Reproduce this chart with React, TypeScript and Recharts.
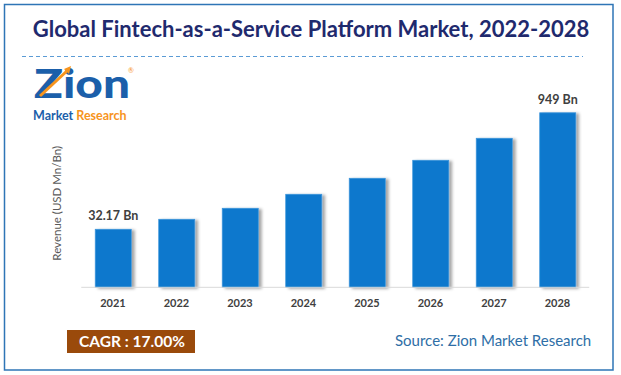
import { BarChart, Bar, XAxis, YAxis, LabelList, Label } from 'recharts'

// bar heights as drawn (relative units, chart is not to scale)
const years = ['2021', '2022', '2023', '2024', '2025', '2026', '2027', '2028']
const revenue = [58, 68, 79, 93, 109, 127, 149, 174.5]
const valueLabels = ['32.17 Bn', '', '', '', '', '', '', '949 Bn']

const data = years.map((year, i) => ({ year, revenue: revenue[i], label: valueLabels[i] }))

const FONT = 'Lato, "Open Sans", sans-serif'
const BAR = '#0A78CD'
const TEXT = '#404040'

function ShadowBar(props: any) {
  const { x, y, width, height } = props
  return (
    <rect
      x={x} y={y} width={width} height={height}
      fill={BAR} stroke="#3E94DA" strokeWidth={0.8}
      filter="url(#barShadow)"
    />
  )
}

// plain top label, no wrapping to bar width
function TopLabel(props: any) {
  const { x, y, width, value } = props
  if (!value) return null
  return (
    <text
      x={x + width / 2} y={y - 9} textAnchor="middle"
      fontFamily={FONT} fontSize={12.5} fontWeight={700} fill={TEXT}
    >
      {value}
    </text>
  )
}

function Logo() {
  return (
    <g>
      <text x={34} y={98} fontFamily={FONT} fontWeight={900} fontSize={39} fill="#1B5FAA" textLength={96} lengthAdjust="spacingAndGlyphs">
        Zion
      </text>
      <line x1={40} y1={96} x2={68} y2={70} stroke="#F7941D" strokeWidth={3} />
      <polygon points="64,69 71,66 69,74" fill="#F7941D" />
      <text x={128} y={73} fontFamily={FONT} fontSize={7} fill="#F7941D">®</text>
      <text x={33} y={120} fontFamily={FONT} fontWeight={700} fontSize={12.5}>
        <tspan fill="#1B5FAA">Market</tspan>
        <tspan fill="#F7941D" dx={3}>Research</tspan>
      </text>
    </g>
  )
}

export default function App() {
  return (
    <div style={{ position: 'absolute', left: 0, top: 0, width: 621, height: 375, background: '#fff', fontFamily: FONT }}>
      <svg width={621} height={375} style={{ position: 'absolute', left: 0, top: 0 }}>
        <rect x={4.5} y={4.5} width={608.5} height={365.5} fill="none" stroke="#2E75B6" strokeWidth={1.5} />
        <text x={311} y={37} textAnchor="middle" fontFamily={FONT} fontWeight={700} fontSize={22} fill="#1F2A6E">
          Global Fintech-as-a-Service Platform Market, 2022-2028
        </text>
        <line x1={22} y1={56.5} x2={583} y2={56.5} stroke="#5B9BD5" strokeDasharray="4 3" />
        <Logo />
        <rect x={67} y={330} width={128} height={23} fill="#9A4A0B" />
        <text x={132} y={347} textAnchor="middle" fontFamily={FONT} fontWeight={700} fontSize={15.5} fill="#fff">
          CAGR : 17.00%
        </text>
        <text x={395} y={346} fontFamily={FONT} fontSize={15} fill="#2E6EA6">
          Source: Zion Market Research
        </text>
      </svg>
      <div style={{ position: 'absolute', left: 0, top: 0 }}>
        <BarChart
          width={621} height={375} data={data}
          margin={{ top: 87.3, right: 31.75, bottom: 57.7, left: 51.25 }}
          barSize={36}
        >
          <defs>
            <filter id="barShadow" x="-20%" y="-10%" width="150%" height="120%">
              <feDropShadow dx={3} dy={1} stdDeviation={1.5} floodColor="#000" floodOpacity={0.35} />
            </filter>
          </defs>
          <XAxis
            dataKey="year" height={30} axisLine={{ stroke: '#D9D9D9' }} tickLine={false}
            tick={{ fontFamily: FONT, fontSize: 11, fontWeight: 700, fill: TEXT }}
            tickMargin={6}
          />
          <YAxis width={30} domain={[0, 200]} axisLine={false} tickLine={false} tick={false}>
            <Label
              value="Revenue (USD Mn/Bn)" angle={-90} position="insideLeft" offset={6} dy={16}
              style={{ fontFamily: FONT, fontSize: 11.5, fill: '#595959', textAnchor: 'middle' }}
            />
          </YAxis>
          <Bar dataKey="revenue" isAnimationActive={false} shape={ShadowBar}>
            <LabelList dataKey="label" content={TopLabel} />
          </Bar>
        </BarChart>
      </div>
    </div>
  )
}
